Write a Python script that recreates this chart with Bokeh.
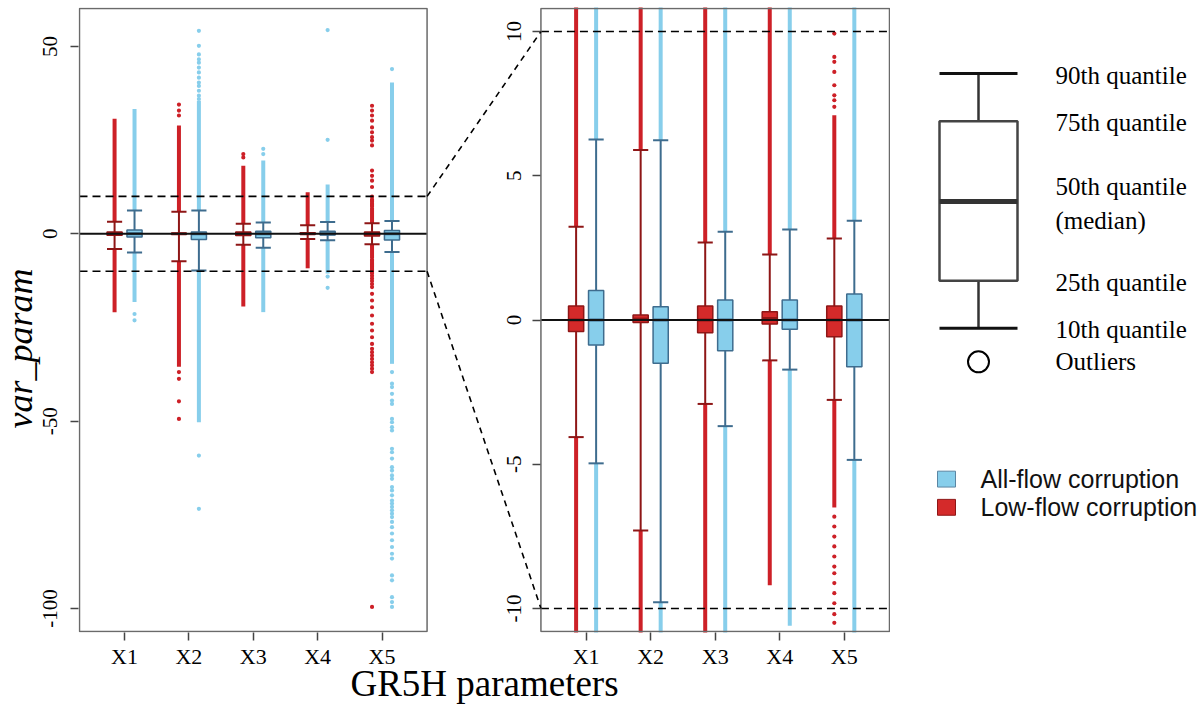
import math
from bokeh.plotting import figure
from bokeh.models import (Range1d, LinearAxis, FixedTicker, Title,
                          ColumnDataSource)
from bokeh.layouts import row
from bokeh.embed import file_html
from bokeh.resources import INLINE

# ------------------------------------------------------------------ data
params = ["X1", "X2", "X3", "X4", "X5"]

# Low-flow corruption (red): 10/25/50/75/90th quantiles
low_q10 = [-4.06, -7.30, -2.91, -1.40, -2.77]
low_q25 = [-0.40, -0.09, -0.44, -0.14, -0.58]
low_q50 = [0.00, 0.03, 0.00, 0.05, 0.00]
low_q75 = [0.485, 0.17, 0.485, 0.29, 0.485]
low_q90 = [3.23, 5.89, 2.69, 2.27, 2.83]
# extent of the dense outlier columns
low_out_hi = [30.7, 28.9, 18.2, 11.1, 7.1]
low_out_lo = [-20.9, -35.5, -19.4, -9.2, -6.5]
# isolated outliers
low_sparse = [
    [],
    [31.6, 32.9, 34.5, -36.9, -38.7, -44.7, -49.4],
    [20.4, 21.3],
    [],
    [7.39, 7.62, 7.79, 8.14, 8.60, 8.95, 9.12, 9.93, 12.5, 14.2, 15.5, 16.9,
     23.6, 24.9, 25.8, 27.1, 28.4, 30.2, 31.6, 32.9, 34.2,
     -6.82, -7.16, -7.51, -7.85, -8.20, -8.55, -8.78, -9.12, -9.47, -9.82,
     -10.2, -10.5, -11.2, -11.9, -12.6, -13.4, -14.2, -16.0, -17.8, -19.6,
     -21.8, -24.0, -25.8, -27.6, -29.4, -30.7, -31.6, -32.5, -33.4, -34.3,
     -35.1, -36.0, -36.9, -99.6],
]

# All-flow corruption (blue)
all_q10 = [-4.97, -9.79, -3.68, -1.72, -4.85]
all_q25 = [-0.87, -1.50, -1.07, -0.32, -1.62]
all_q50 = [0.00, 0.00, 0.00, 0.00, 0.00]
all_q75 = [1.02, 0.46, 0.69, 0.69, 0.90]
all_q90 = [6.26, 6.23, 3.06, 3.14, 3.44]
all_out_hi = [33.3, 35.5, 19.6, 13.2, 40.4]
all_out_lo = [-18.2, -50.3, -20.9, -10.6, -34.7]
all_sparse = [
    [-21.4, -23.1],
    [36.0, 36.9, 38.2, 39.5, 40.4, 41.7, 43.1, 44.4, 45.7, 46.6, 47.9, 50.2,
     54.2, -59.2, -73.4],
    [21.3, 22.7],
    [25.1, 54.4, -11.4, -14.4],
    [44.0, -36.9, -40.0, -40.9, -42.7, -44.5, -45.4, -49.4, -50.3, -51.6,
     -52.5, -57.4, -58.3, -60.0, -62.3, -63.2, -64.5, -65.4, -67.6, -68.5,
     -69.8, -71.2, -72.0, -72.9, -73.8, -74.7, -75.6, -76.9, -78.3, -80.0,
     -81.8, -83.6, -85.4, -86.7, -91.2, -92.5, -97.0, -98.3, -99.6],
]

left_yticks = [-100, -50, 0, 50]
right_yticks = [-10, -5, 0, 5, 10]
zoom_band = [-10, 10]
schematic_labels = ["90th quantile", "75th quantile", "50th quantile",
                    "(median)", "25th quantile", "10th quantile", "Outliers"]
series_labels = ["All-flow corruption", "Low-flow corruption"]

# ------------------------------------------------------------------ layout
FIG_W, FIG_H = 890, 709
BL, BB, BT = 77, 77, 7
FRAME_W, FRAME_H = FIG_W - BL, FIG_H - BB - BT
LP = (1, 349)      # left panel, px from frame left
RP = (463, 812)    # right panel
PYB = (1, FRAME_H - 1)   # panel bottom/top, px from frame bottom
XLIM = (0.3, 5.7)
YLIM_L = (-106.16, 60.16)
YLIM_R = (-10.8, 10.8)
OFFS = 0.155       # half distance between paired boxes
BW = 0.235         # box width

SERIF = "Liberation Serif"
SANS = "Liberation Sans"
RED_FILL, RED_DARK, RED_PT = "#D42A2A", "#8E1616", "#CD2027"
BLU_FILL, BLU_DARK, BLU_PT = "#87CEEB", "#3E6C8E", "#87CEEB"
BOX_GRAY = "#6a6a6a"


def lin_range(lim, p0, p1, total):
    ppu = (p1 - p0) / (lim[1] - lim[0])
    start = lim[0] - p0 / ppu
    return start, start + total / ppu


mx = lin_range(XLIM, LP[0], LP[1], FRAME_W)
zx = lin_range(XLIM, RP[0], RP[1], FRAME_W)
my = lin_range(YLIM_L, PYB[0], PYB[1], FRAME_H)
zy = lin_range(YLIM_R, PYB[0], PYB[1], FRAME_H)


def z2m_x(v):
    return mx[0] + (v - zx[0]) * (mx[1] - mx[0]) / (zx[1] - zx[0])


def z2m_y(v):
    return my[0] + (v - zy[0]) * (my[1] - my[0]) / (zy[1] - zy[0])


p = figure(width=FIG_W, height=FIG_H, x_range=Range1d(*mx),
           y_range=Range1d(*my), output_backend="svg", toolbar_location=None,
           min_border_left=BL, min_border_right=0, min_border_top=BT,
           min_border_bottom=BB, outline_line_color=None)
p.extra_x_ranges = {"zx": Range1d(*zx)}
p.extra_y_ranges = {"zy": Range1d(*zy)}
p.grid.visible = False


def style_axis(ax):
    ax.axis_line_color = None
    ax.major_tick_line_color = "#444444"
    ax.major_tick_line_width = 1.5
    ax.minor_tick_line_color = None
    ax.major_tick_in = 0
    ax.major_label_text_font = SERIF
    ax.major_label_text_font_size = "21px"
    ax.major_label_text_color = "black"


# x axis: ticks for both panels
xt = [float(i + 1) for i in range(5)] + [z2m_x(float(i + 1)) for i in range(5)]
xa = p.xaxis[0]
style_axis(xa)
xa.ticker = FixedTicker(ticks=xt)
xa.major_label_overrides = {t: params[i % 5] for i, t in enumerate(xt)}
xa.major_label_text_font_size = "22px"
xa.major_tick_out = 8
xa.major_label_standoff = 3
xa.axis_label = "GR5H parameters"
xa.axis_label_text_font = SERIF
xa.axis_label_text_font_style = "normal"
xa.axis_label_text_font_size = "37px"
xa.axis_label_text_color = "black"
xa.axis_label_standoff = -9

ya = p.yaxis[0]
style_axis(ya)
ya.ticker = FixedTicker(ticks=left_yticks)
ya.major_label_overrides = {t: str(t) for t in left_yticks}
ya.major_label_orientation = "vertical"
ya.major_tick_out = 8
ya.major_label_standoff = 13

za = LinearAxis(y_range_name="zy", fixed_location=z2m_x(XLIM[0]),
                ticker=FixedTicker(ticks=right_yticks))
style_axis(za)
za.major_label_overrides = {t: str(t) for t in right_yticks}
za.major_label_orientation = "vertical"
za.major_tick_out = 8
za.major_label_standoff = 12
p.add_layout(za, "left")

# y title, placed along the axis like the reference
p.add_layout(Title(text="var_param", align="left", offset=204,
                   vertical_align="top", standoff=-2,
                   text_font=SERIF, text_font_style="italic",
                   text_font_size="36px", text_color="black"), "left")

groups = [
    dict(off=-OFFS, q10=low_q10, q25=low_q25, q50=low_q50, q75=low_q75,
         q90=low_q90, hi=low_out_hi, lo=low_out_lo, sp=low_sparse,
         fill=RED_FILL, dark=RED_DARK, pt=RED_PT),
    dict(off=OFFS, q10=all_q10, q25=all_q25, q50=all_q50, q75=all_q75,
         q90=all_q90, hi=all_out_hi, lo=all_out_lo, sp=all_sparse,
         fill=BLU_FILL, dark=BLU_DARK, pt=BLU_PT),
]

for xrn, yrn in [("default", "default"), ("zx", "zy")]:
    kw = dict(x_range_name=xrn, y_range_name=yrn)
    for gi, g in enumerate(groups):
        xs = [i + 1 + g["off"] for i in range(5)]
        src = ColumnDataSource(dict(
            x=xs, xl=[x - BW / 2 for x in xs], xr=[x + BW / 2 for x in xs],
            q10=g["q10"], q25=g["q25"], q50=g["q50"], q75=g["q75"],
            q90=g["q90"], hi=g["hi"], lo=g["lo"]))
        # dense outlier columns
        p.segment(x0="x", y0="q90", x1="x", y1="hi", source=src,
                  line_color=g["pt"], line_width=4, **kw)
        p.segment(x0="x", y0="q10", x1="x", y1="lo", source=src,
                  line_color=g["pt"], line_width=4, **kw)
        sx, sy = [], []
        for i, vals in enumerate(g["sp"]):
            for v in vals:
                sx.append(xs[i])
                sy.append(v)
        p.scatter(x=sx, y=sy, size=4.2, marker="circle", fill_color=g["pt"],
                  line_color=None, **kw)
        # whiskers
        p.segment(x0="x", y0="q75", x1="x", y1="q90", source=src,
                  line_color=g["dark"], line_width=2, **kw)
        p.segment(x0="x", y0="q25", x1="x", y1="q10", source=src,
                  line_color=g["dark"], line_width=2, **kw)
        p.segment(x0="xl", y0="q90", x1="xr", y1="q90", source=src,
                  line_color=g["dark"], line_width=2, **kw)
        p.segment(x0="xl", y0="q10", x1="xr", y1="q10", source=src,
                  line_color=g["dark"], line_width=2, **kw)
        # boxes
        p.quad(left="xl", right="xr", bottom="q25", top="q75", source=src,
               fill_color=g["fill"], line_color=g["dark"], line_width=1.5,
               **kw)
        p.segment(x0="xl", y0="q50", x1="xr", y1="q50", source=src,
                  line_color=g["dark"], line_width=3, **kw)
    # zero line
    p.segment(x0=[XLIM[0]], y0=[0], x1=[XLIM[1]], y1=[0],
              line_color="#111111", line_width=2, **kw)
    # zoom band
    p.segment(x0=[XLIM[0]] * 2, y0=zoom_band, x1=[XLIM[1]] * 2, y1=zoom_band,
              line_color="black", line_width=1.6, line_dash="8 5", **kw)
    # panel frame
    ylim = YLIM_L if xrn == "default" else YLIM_R
    p.quad(left=[XLIM[0]], right=[XLIM[1]], bottom=[ylim[0]], top=[ylim[1]],
           fill_color=None, line_color=BOX_GRAY, line_width=1.5, **kw)

# connecting lines between the band on the left and the zoomed panel
p.segment(x0=[XLIM[1]] * 2, y0=zoom_band,
          x1=[z2m_x(XLIM[0])] * 2, y1=[z2m_y(v) for v in zoom_band],
          line_color="black", line_width=1.6, line_dash="6 5")

# ------------------------------------------------------------------ side figure
SX0 = FIG_W
SW = 1203 - SX0
s = figure(width=SW, height=FIG_H, x_range=Range1d(SX0, SX0 + SW),
           y_range=Range1d(FIG_H, 0), output_backend="svg",
           toolbar_location=None, min_border=0, x_axis_location=None,
           y_axis_location=None, outline_line_color=None)
s.grid.visible = False

bx0, bx1, bxc = 939, 1017, 978
y90, y75, y50, y25, y10, yo = 75, 129, 220, 310, 364, 402
s.segment(x0=[bxc, bxc], y0=[y90, y25], x1=[bxc, bxc], y1=[y75, y10],
          line_color="#333333", line_width=2.5)
s.segment(x0=[bx0, bx0], y0=[y90, y10], x1=[bx1, bx1], y1=[y90, y10],
          line_color="#111111", line_width=3)
s.quad(left=[bx0], right=[bx1], bottom=[y25], top=[y75], fill_color="white",
       line_color="#444444", line_width=2.5)
s.segment(x0=[bx0], y0=[y50], x1=[bx1], y1=[y50], line_color="#333333",
          line_width=5)
s.scatter(x=[bxc], y=[yo], size=21, marker="circle", fill_color=None,
          line_color="black", line_width=2)
s.text(x=[1055] * 7, y=[76.7, 130, 203, 242, 312, 365, 402],
       text=schematic_labels, text_font={"value": SERIF},
       text_font_size={"value": "25px"}, text_baseline="middle",
       text_align="left", text_color="black")

# colour key
s.quad(left=[937, 937], right=[955, 955], top=[526, 558], bottom=[544, 576],
       fill_color=[BLU_FILL, RED_FILL], line_color=["#5b86a3", "#8E1616"],
       line_width=1)
s.text(x=[980, 980], y=[535, 567], text=series_labels,
       text_font={"value": SANS}, text_font_size={"value": "25px"},
       text_baseline="middle", text_align="left", text_color="#111111")

layout = row(p, s)
open("out.html", "w").write(file_html(layout, INLINE))
